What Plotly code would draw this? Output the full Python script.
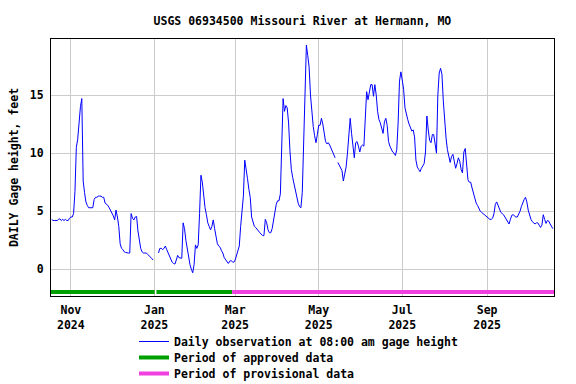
import pandas as pd
import plotly.graph_objects as go

# Daily gage height (ft), 08:00 observation
start_date = "2024-10-18"
oct_2024 = [4.3, 4.2, 4.2, 4.2, 4.2, 4.3, 4.35, 4.2, 4.3, 4.2, 4.3, 4.2, 4.2, 4.4]
nov_2024 = [4.5, 4.5, 4.8, 6.7, 10.5, 11.2, 12.9, 14.0, 14.7, 7.6,
            6.6, 5.8, 5.5, 5.3, 5.3, 5.3, 5.3, 6.0, 6.2, 6.2,
            6.3, 6.3, 6.3, 6.2, 6.2, 5.7, 5.6, 5.5, 5.3, 5.1]
dec_2024 = [4.8, 4.6, 4.25, 5.1, 4.5, 3.7, 2.2, 1.8, 1.7, 1.5,
            1.45, 1.4, 1.4, 1.4, 4.8, 4.4, 4.25, 4.5, 4.55, 3.3,
            2.3, 1.8, 1.5, 1.4, 1.4, 1.4, 1.3, 1.2, 1.1, 0.95, 0.8]
jan_2025 = [None, None, None, 1.4, 1.8, 1.8, 1.7, 1.8, 2.0, 1.7,
            1.4, 1.2, 0.8, 0.6, 0.5, 0.45, 0.8, 1.2, 1.0, 0.95,
            0.95, 4.0, 3.5, 2.5, 1.7, 1.0, 0.4, 0.0, -0.3, 0.4, 2.1]
feb_2025 = [1.8, 2.1, 4.8, 8.1, 7.5, 6.3, 5.3, 4.7, 4.0, 3.7,
            3.4, 3.7, 4.25, 3.5, 2.9, 2.2, 2.0, 1.9, 1.6, 1.4,
            1.0, 0.8, 0.6, 0.5, 0.7, 0.75, 0.65, 0.6]
mar_2025 = [0.8, 1.2, 1.5, 2.0, 3.7, 5.1, 6.3, 9.4, 8.7, 7.8,
            6.9, 6.2, 4.5, 4.0, 3.7, 3.6, 3.4, 3.3, 3.15, 3.0,
            2.9, 2.9, 4.3, 4.0, 3.4, 3.15, 3.15, 3.5, 4.3, 5.2, 5.6]
apr_2025 = [5.9, 5.9, 6.5, 11.5, 14.7, 13.6, 14.1, 13.9, 12.6, 10.2,
            8.6, 7.9, 7.3, 6.6, 6.1, 5.7, 5.4, 5.3, 6.6, 10.3,
            15.1, 19.3, 18.4, 17.4, 15.0, 13.4, 12.3, 11.5, 10.9, 11.6]
may_2025 = [12.4, 12.4, 13.0, 12.5, 11.8, 11.0, 10.8, 10.9, 10.7, 10.4,
            10.1, 9.8, 9.6, None, 9.2, 9.0, 8.8, 8.5, 7.6, 8.2,
            8.8, 10.0, 11.8, 13.0, 11.7, 10.3, 9.6, 10.9, 11.0, 10.6, 10.1]
jun_2025 = [10.6, 10.7, 10.6, 13.2, 15.3, 14.6, 15.2, 15.9, 15.9, 14.9,
            15.9, 15.0, 13.6, 12.9, 12.6, 12.1, 11.7, 12.7, 13.0, 12.4,
            11.0, 10.6, 10.3, 10.1, 10.0, 9.8, 10.3, 12.6, 16.2, 17.0]
jul_2025 = [16.3, 15.5, 13.9, 13.3, 12.9, 12.5, 12.1, 11.9, 12.0, 11.4,
            9.4, 8.8, 8.6, 8.4, 8.7, 8.9, 9.1, 10.1, 13.2, 12.0,
            11.1, 10.9, 11.6, 11.6, 10.5, 10.0, 15.0, 16.9, 17.3, 16.8, 14.5]
aug_2025 = [12.6, 11.3, 10.3, 9.6, 9.2, 9.7, 9.9, 9.3, 8.7, 9.1,
            9.6, 9.3, 8.6, 8.3, 10.1, 10.4, 8.7, 7.7, 7.5, 7.5,
            7.0, 6.5, 6.1, 5.7, 5.5, 5.2, 5.0, 4.9, 4.8, 4.7, 4.6]
sep_2025 = [4.5, 4.4, 4.3, 4.3, 4.4, 4.8, 5.6, 5.8, 5.5, 5.1,
            4.9, 4.8, 4.7, 4.5, 4.3, 4.1, 3.9, 4.3, 4.65, 4.7,
            4.6, 4.5, 4.5, 4.7, 5.0, 5.4, 5.8, 6.0, 6.2, 5.8]
oct_2025 = [5.1, 4.6, 4.3, 4.1, 4.0, 3.9, 4.0, 4.0, 3.8, 3.6,
            3.8, 4.7, 4.3, 3.95, 4.2, 4.15, 3.9, 3.7, 3.5]

# Data-quality periods (start, end) and the level at which they are drawn
approved_periods = [("2024-10-17 12:00", "2025-01-01 06:00"),
                    ("2025-01-02 12:00", "2025-02-26 18:00")]
provisional_periods = [("2025-02-26 18:00", "2025-10-19 20:00")]
period_level = -1.95

tick_dates = ["2024-11-01", "2025-01-01", "2025-03-01", "2025-05-01", "2025-07-01", "2025-09-01"]
tick_text = ["Nov<br>2024", "Jan<br>2025", "Mar<br>2025", "May<br>2025", "Jul<br>2025", "Sep<br>2025"]
y_ticks = [0, 5, 10, 15]
x_range = ["2024-10-17 12:00", "2025-10-19 20:00"]
y_range = [-2.3, 19.83]

values = (oct_2024 + nov_2024 + dec_2024 + jan_2025 + feb_2025 + mar_2025 + apr_2025
          + may_2025 + jun_2025 + jul_2025 + aug_2025 + sep_2025 + oct_2025)
dates = pd.date_range(start_date, periods=len(values), freq="D")


def period_xy(periods):
    xs, ys = [], []
    for s, e in periods:
        xs += [s, e, None]
        ys += [period_level, period_level, None]
    return xs, ys


FONT = "DejaVu Sans Mono"
TFONT = dict(family=FONT, size=11.5, color="black", weight="bold")

fig = go.Figure()
fig.add_trace(go.Scatter(x=dates, y=values, mode="lines",
                         line=dict(color="#0000ff", width=1),
                         connectgaps=False, legend="legend",
                         name="Daily observation at 08:00 am gage height"))
ax, ay = period_xy(approved_periods)
fig.add_trace(go.Scatter(x=ax, y=ay, mode="lines", line=dict(color="#00a000", width=4),
                         legend="legend2", name="Period of approved data"))
px_, py_ = period_xy(provisional_periods)
fig.add_trace(go.Scatter(x=px_, y=py_, mode="lines", line=dict(color="#f040e0", width=4),
                         legend="legend3", name="Period of provisional data"))


def legend_at(ytop):
    return dict(x=0.165, xanchor="left", y=ytop, yref="container", yanchor="top",
                bgcolor="rgba(0,0,0,0)", font=TFONT, itemwidth=30)


fig.update_layout(
    width=576, height=384,
    margin=dict(l=51, r=22, t=39, b=88, autoexpand=False),
    paper_bgcolor="white", plot_bgcolor="white",
    font=TFONT,
    title=dict(text="USGS 06934500 Missouri River at Hermann, MO",
               x=0.525, xanchor="center", y=0.945, yanchor="middle", font=TFONT),
    showlegend=True,
    legend=legend_at(0.1484),
    legend2=legend_at(0.1068),
    legend3=legend_at(0.0651),
)
fig.update_xaxes(range=x_range, tickmode="array", tickvals=tick_dates, ticktext=tick_text,
                 showgrid=True, gridcolor="#cccccc", gridwidth=1,
                 showline=True, linecolor="black", linewidth=1, mirror=True,
                 ticks="", ticklabelstandoff=3, zeroline=False, tickangle=0, automargin=False)
fig.update_yaxes(range=y_range, tickmode="array", tickvals=y_ticks,
                 showgrid=True, gridcolor="#cccccc", gridwidth=1,
                 showline=True, linecolor="black", linewidth=1, mirror=True,
                 ticks="outside", ticklen=4, tickcolor="white", zeroline=False,
                 automargin=False,
                 title=dict(text="DAILY Gage height, feet", standoff=8, font=TFONT))

fig.write_html("out.html", config={"displayModeBar": False},
               post_script="document.body.style.margin='0';")
